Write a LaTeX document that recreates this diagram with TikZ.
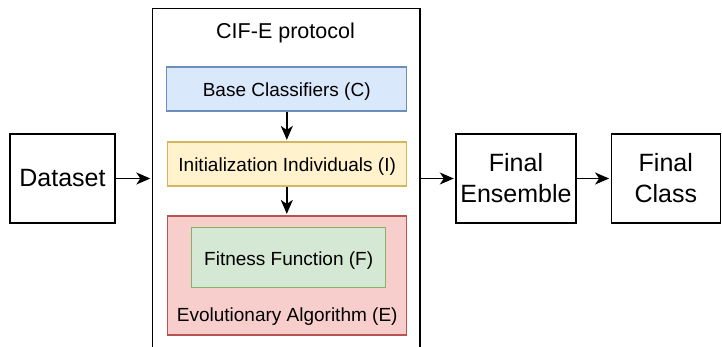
\documentclass[tikz,border=0pt]{standalone}
\usepackage{fontspec}
\setmainfont{Liberation Sans}
\usetikzlibrary{arrows.meta}
\definecolor{bfill}{HTML}{DAE8FC}\definecolor{bline}{HTML}{6C8EBF}
\definecolor{yfill}{HTML}{FFF2CC}\definecolor{yline}{HTML}{D6B656}
\definecolor{rfill}{HTML}{F8CECC}\definecolor{rline}{HTML}{B85450}
\definecolor{gfill}{HTML}{D5E8D4}\definecolor{gline}{HTML}{82B366}
\tikzset{
  box/.style={draw, line width=1.4pt, inner sep=0pt, align=center},
  bigtxt/.style={font=\fontsize{25}{31}\selectfont},
  smalltxt/.style={font=\fontsize{19}{23}\selectfont, text height=15.5pt, text depth=0pt},
  conn/.style={line width=1.5pt, shorten >=1.5pt, -{Stealth[length=14pt,width=12pt,inset=4pt]}}
}
\begin{document}
\begin{tikzpicture}[x=1pt,y=-1pt]
\useasboundingbox (0,0) rectangle (722,346);
\clip (0,0) rectangle (722,346);
% outer container
\node[box, minimum width=267.5pt, minimum height=380pt, anchor=north west] (cife) at (151.8,7.5) {};
\node[font=\fontsize{21.5}{26}\selectfont, anchor=base] (title) at (285.5,38.3) {CIF-E protocol};
% inner boxes
\node[box, smalltxt, draw=bline, fill=bfill, line width=1.2pt, minimum width=240pt, minimum height=44pt] (base) at (286.7,89) {Base Classifiers (C)};
\node[box, smalltxt, draw=yline, fill=yfill, line width=1.2pt, minimum width=239pt, minimum height=44pt] (init) at (287.2,164) {Initialization Individuals (I)};
\node[box, draw=rline, fill=rfill, line width=1.2pt, minimum width=239pt, minimum height=119pt] (evo) at (287.2,275.5) {};
\node[smalltxt, inner sep=0pt] (evotxt) at (287.2,313.5) {Evolutionary Algorithm (E)};
\node[box, smalltxt, draw=gline, fill=gfill, line width=1.2pt, minimum width=194pt, minimum height=60pt] (fit) at (288.7,257.5) {Fitness Function (F)};
% outside boxes
\node[box, bigtxt, minimum width=105pt, minimum height=89pt] (data) at (62.5,178.5) {Dataset};
\node[box, bigtxt, minimum width=120pt, minimum height=89pt] (fe) at (516,178.5) {Final\\Ensemble};
\node[box, bigtxt, minimum width=109pt, minimum height=89pt] (fc) at (665.8,178.5) {Final\\Class};
% connectors
\coordinate (arrx) at (286.8,0);
\draw[conn] (arrx |- base.south) -- (arrx |- init.north);
\draw[conn] (arrx |- init.south) -- (arrx |- evo.north);
\draw[conn] (data.east) -- (data.east -| cife.west);
\draw[conn] (fe.west -| cife.east) -- (fe.west);
\draw[conn] (fe.east) -- (fc.west);
\end{tikzpicture}
\end{document}
